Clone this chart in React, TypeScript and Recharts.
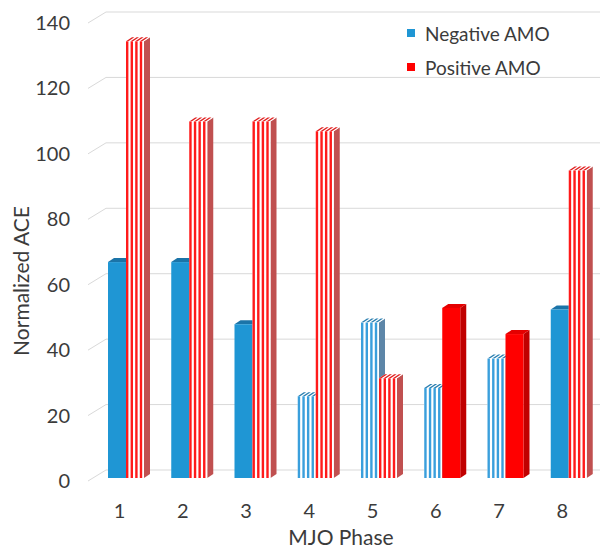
import React from 'react';
import { BarChart, Bar, XAxis, YAxis, CartesianGrid } from 'recharts';

const phases = ['1', '2', '3', '4', '5', '6', '7', '8'];
const negativeAMO = [66, 66, 47, 25, 47.5, 27.5, 36.5, 51.5];
const positiveAMO = [133.5, 109, 109, 106, 30.5, 52, 44, 94];
const negativeStriped = [false, false, false, true, true, true, true, false];
const positiveStriped = [true, true, true, true, true, false, false, true];
const yTicks = [0, 20, 40, 60, 80, 100, 120, 140];
const seriesNames = ['Negative AMO', 'Positive AMO'];

const data = phases.map((p, i) => ({
  phase: p,
  neg: negativeAMO[i],
  pos: positiveAMO[i],
  negStriped: negativeStriped[i],
  posStriped: positiveStriped[i],
}));

const FONT = 'Lato, "Open Sans", sans-serif';
const TEXT = '#3b3b3b';

const BLUE = { front: '#1f96d4', top: '#1b74a8', side: '#1a6f9f', stripe: '#3a9fdc', stripeTop: '#2a7fb0', stripeSide: '#5d86a8' };
const RED = { front: '#ff0000', top: '#e40000', side: '#c00000', stripe: '#ff1a1a', stripeTop: '#e02020', stripeSide: '#c05050' };

const DX = 6;
const DY = 4;
const PERIOD = 4.6;
const SW = 2.4;

function makeShape(pal: any, flag: string) {
  return (props: any) => {
    const { x, y, width, height, payload } = props;
    if (height == null || width == null) return <g />;
    const striped = payload[flag];
    const side = `M${x + width},${y} L${x + width + DX},${y - DY} L${x + width + DX},${y + height - DY} L${x + width},${y + height} Z`;
    const top = `M${x},${y} L${x + DX},${y - DY} L${x + width + DX},${y - DY} L${x + width},${y} Z`;
    if (!striped) {
      return (
        <g>
          <path d={side} fill={pal.side} />
          <path d={top} fill={pal.top} />
          <rect x={x} y={y} width={width} height={height} fill={pal.front} />
        </g>
      );
    }
    const stripes: any[] = [];
    const tops: any[] = [];
    let k = 0;
    for (let sx = x; sx < x + width - 0.3; sx += PERIOD) {
      const w = Math.min(SW, x + width - sx);
      stripes.push(<rect key={`s${k}`} x={sx} y={y} width={w} height={height} fill={pal.stripe} />);
      tops.push(
        <path
          key={`t${k}`}
          d={`M${sx},${y} L${sx + DX},${y - DY} L${sx + w + DX},${y - DY} L${sx + w},${y} Z`}
          fill={pal.stripeTop}
        />
      );
      k++;
    }
    return (
      <g>
        <path d={side} fill={pal.stripeSide} />
        <path d={top} fill="#ffffff" />
        {tops}
        <rect x={x} y={y} width={width} height={height} fill="#ffffff" />
        {stripes}
      </g>
    );
  };
}

const gridLine = (p: any) => {
  const y = p.y1;
  return (
    <path
      key={`g-${p.index ?? y}`}
      d={`M88,${y + 3} L106,${y - 8} L600,${y - 8}`}
      stroke="#d9d9d9"
      strokeWidth={1}
      fill="none"
    />
  );
};

const YTick = (p: any) => (
  <text x={70} y={p.y + 3} dy="0.35em" textAnchor="end" fontFamily={FONT} fontSize={20} fill={TEXT}>
    {p.payload.value}
  </text>
);

const XTick = (p: any) => (
  <text x={p.x - 6} y={511} dy="0.35em" textAnchor="middle" fontFamily={FONT} fontSize={20} fill={TEXT}>
    {p.payload.value}
  </text>
);

const legendColors = [BLUE.front, RED.front];

export default function App() {
  return (
    <div style={{ position: 'absolute', left: 0, top: 0, width: 605, height: 549, background: '#fff' }}>
      <BarChart
        width={605}
        height={549}
        data={data}
        margin={{ top: 20, right: 5, bottom: 41, left: 34 }}
        barSize={18}
        barGap={0}
      >
        <CartesianGrid vertical={false} horizontal={gridLine} />
        <XAxis
          dataKey="phase"
          axisLine={false}
          tickLine={false}
          tick={XTick}
          height={30}
          label={{
            content: () => (
              <text x={341} y={538} dy="0.35em" textAnchor="middle" fontFamily={FONT} fontSize={21} fill={TEXT}>
                MJO Phase
              </text>
            ),
          }}
        />
        <YAxis
          domain={[0, 140]}
          ticks={yTicks}
          axisLine={false}
          tickLine={false}
          tick={YTick}
          width={60}
          label={{
            content: () => (
              <text
                x={22}
                y={281}
                dy="0.35em"
                textAnchor="middle"
                fontFamily={FONT}
                fontSize={21}
                fill={TEXT}
                transform="rotate(-90 22 281)"
              >
                Normalized ACE
              </text>
            ),
          }}
        />
        <Bar dataKey="neg" name={seriesNames[0]} fill={BLUE.front} shape={makeShape(BLUE, 'negStriped')} isAnimationActive={false} />
        <Bar dataKey="pos" name={seriesNames[1]} fill={RED.front} shape={makeShape(RED, 'posStriped')} isAnimationActive={false} />
      </BarChart>
      <div style={{ position: 'absolute', left: 400, top: 16, width: 200, fontFamily: FONT, fontSize: 19, color: TEXT }}>
        {seriesNames.map((n, i) => (
          <div key={n} style={{ height: 34, display: 'flex', alignItems: 'center' }}>
            <div style={{ width: 8, height: 8, background: legendColors[i], marginLeft: 7, marginRight: 10 }} />
            <span>{n}</span>
          </div>
        ))}
      </div>
    </div>
  );
}
